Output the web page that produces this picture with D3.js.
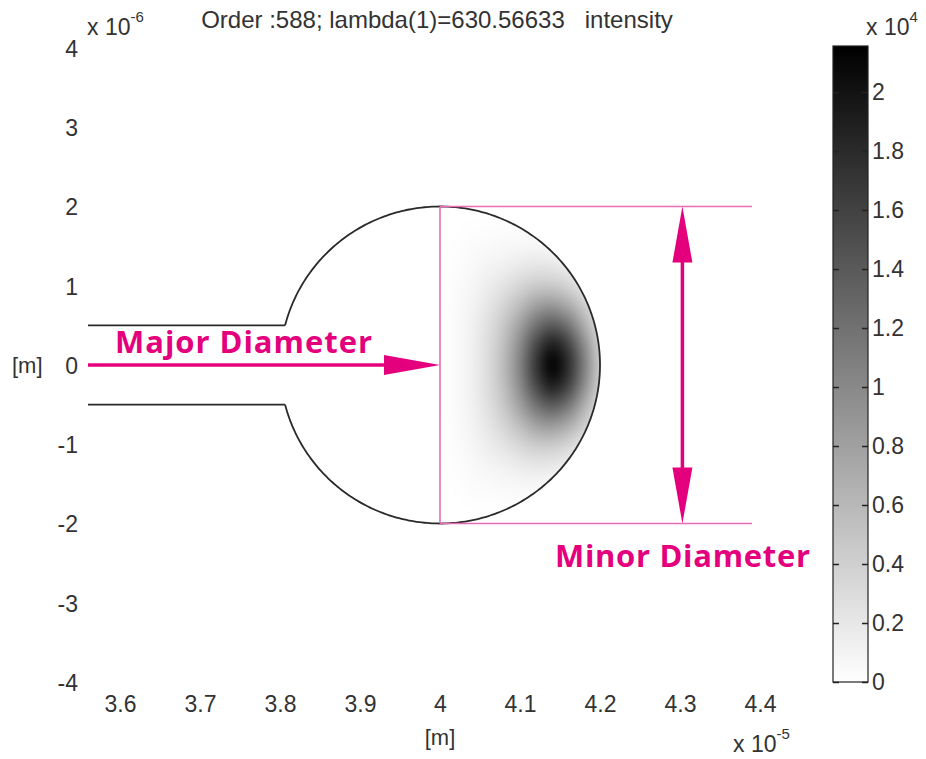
<!DOCTYPE html>
<html>
<head>
<meta charset="utf-8">
<script src="https://cdn.jsdelivr.net/npm/d3@7"></script>
<style>
  body { margin: 0; background: #fff; }
  svg { display: block; }
  text { font-family: "Liberation Sans", Arial, sans-serif; }
</style>
</head>
<body>
<script>
// ---- tick values (x and y in µm; x labels shown in units of 1e-5 m, y in 1e-6 m)
const xTicks = [36, 37, 38, 39, 40, 41, 42, 43, 44];
const xTickLabels = ["3.6", "3.7", "3.8", "3.9", "4", "4.1", "4.2", "4.3", "4.4"];
const yTicks = [4, 3, 2, 1, 0, -1, -2, -3, -4];
const yTickLabels = ["4", "3", "2", "1", "0", "-1", "-2", "-3", "-4"];
const cTicks = [0, 0.2, 0.4, 0.6, 0.8, 1, 1.2, 1.4, 1.6, 1.8, 2];
const cTickLabels = ["0", "0.2", "0.4", "0.6", "0.8", "1", "1.2", "1.4", "1.6", "1.8", "2"];
const cMax = 2.156; // colour range top, ×1e4

// ---- resonator geometry (µm)
const ringCenter = [40, 0];
const ringRadius = 2;
const guideHalfWidth = 0.5;
const guideStart = 35.6;
const markerEnd = 43.9;     // right end of the thin marker lines
const minorArrowX = 43.03;  // x of the vertical double arrow

// ---- intensity samples (×1e4) on a regular grid in the right half of the disk
const gridX = [40.0, 40.2, 40.4, 40.6, 40.8, 41.0, 41.2, 41.4, 41.6, 41.8, 42.0];
const gridY = [2.0, 1.75, 1.5, 1.25, 1.0, 0.75, 0.5, 0.25, 0, -0.25, -0.5, -0.75, -1.0, -1.25, -1.5, -1.75, -2.0];
const intensity = [
  [0.00, 0.00, 0.00, 0.00, 0.00, 0.00, 0.00, 0.00, 0.00, 0.00, 0.00],
  [0.00, 0.00, 0.01, 0.01, 0.02, 0.02, 0.02, 0.01, 0.00, 0.00, 0.00],
  [0.00, 0.01, 0.03, 0.04, 0.06, 0.07, 0.08, 0.06, 0.04, 0.01, 0.00],
  [0.00, 0.02, 0.05, 0.09, 0.13, 0.18, 0.21, 0.20, 0.14, 0.06, 0.02],
  [0.00, 0.03, 0.08, 0.15, 0.24, 0.35, 0.45, 0.46, 0.36, 0.20, 0.07],
  [0.00, 0.03, 0.10, 0.21, 0.36, 0.57, 0.80, 0.88, 0.72, 0.44, 0.17],
  [0.00, 0.04, 0.12, 0.26, 0.47, 0.80, 1.20, 1.40, 1.18, 0.70, 0.30],
  [0.00, 0.04, 0.13, 0.29, 0.55, 0.98, 1.55, 1.92, 1.62, 0.98, 0.40],
  [0.00, 0.04, 0.13, 0.30, 0.58, 1.05, 1.70, 2.15, 1.80, 1.10, 0.45],
  [0.00, 0.04, 0.13, 0.29, 0.55, 0.98, 1.55, 1.92, 1.62, 0.98, 0.40],
  [0.00, 0.04, 0.12, 0.26, 0.47, 0.80, 1.20, 1.40, 1.18, 0.70, 0.30],
  [0.00, 0.03, 0.10, 0.21, 0.36, 0.57, 0.80, 0.88, 0.72, 0.44, 0.17],
  [0.00, 0.03, 0.08, 0.15, 0.24, 0.35, 0.45, 0.46, 0.36, 0.20, 0.07],
  [0.00, 0.02, 0.05, 0.09, 0.13, 0.18, 0.21, 0.20, 0.14, 0.06, 0.02],
  [0.00, 0.01, 0.03, 0.04, 0.06, 0.07, 0.08, 0.06, 0.04, 0.01, 0.00],
  [0.00, 0.00, 0.01, 0.01, 0.02, 0.02, 0.02, 0.01, 0.00, 0.00, 0.00],
  [0.00, 0.00, 0.00, 0.00, 0.00, 0.00, 0.00, 0.00, 0.00, 0.00, 0.00]
];

const W = 926, H = 759;
const PINK = "#e4007d";
const PINK_THIN = "#e86db4";
const TXT = "#333";

const svg = d3.select("body").append("svg").attr("width", W).attr("height", H);

const x = d3.scaleLinear().domain([36, 44]).range([120, 760]);
const y = d3.scaleLinear().domain([-4, 4]).range([682, 48]);
const c = d3.scaleLinear().domain([0, cMax]).range([682, 46]);
const gray = d3.scaleLinear().domain([0, cMax]).range(["#ffffff", "#000000"]);

// ---- intensity field: samples painted into a tiny canvas, upscaled smoothly
const nx = gridX.length, ny = gridY.length;
const dxStep = gridX[1] - gridX[0], dyStep = gridY[0] - gridY[1];
const small = document.createElement("canvas");
small.width = nx; small.height = ny;
const sctx = small.getContext("2d");
const img = sctx.createImageData(nx, ny);
intensity.forEach((row, j) => row.forEach((v, i) => {
  const col = d3.rgb(gray(v));
  const k = (j * nx + i) * 4;
  img.data[k] = col.r; img.data[k + 1] = col.g; img.data[k + 2] = col.b; img.data[k + 3] = 255;
}));
sctx.putImageData(img, 0, 0);

const fx0 = x(gridX[0] - dxStep / 2), fx1 = x(gridX[nx - 1] + dxStep / 2);
const fy0 = y(gridY[0] + dyStep / 2), fy1 = y(gridY[ny - 1] - dyStep / 2);
const big = document.createElement("canvas");
big.width = Math.round(fx1 - fx0); big.height = Math.round(fy1 - fy0);
const bctx = big.getContext("2d");
bctx.imageSmoothingEnabled = true;
bctx.imageSmoothingQuality = "high";
bctx.drawImage(small, 0, 0, nx, ny, 0, 0, big.width, big.height);

// clip to the right half of the disk
const rx = x(ringCenter[0] + ringRadius) - x(ringCenter[0]);
const ry = y(ringCenter[1]) - y(ringCenter[1] + ringRadius);
const defs = svg.append("defs");
defs.append("clipPath").attr("id", "halfDisk").append("path")
  .attr("d", `M${x(40)},${y(2)} A${rx},${ry} 0 0 1 ${x(40)},${y(-2)} Z`);

svg.append("image")
  .attr("x", fx0).attr("y", fy0)
  .attr("width", fx1 - fx0).attr("height", fy1 - fy0)
  .attr("preserveAspectRatio", "none")
  .attr("href", big.toDataURL())
  .attr("clip-path", "url(#halfDisk)");

// ---- resonator outline: disk with the waveguide entering from the left
const a0 = Math.asin(guideHalfWidth / ringRadius);
const angles = d3.range(0, 361).map(k => -Math.PI + a0 + (2 * Math.PI - 2 * a0) * k / 360);
const ringPts = angles.map(t => [ringCenter[0] + ringRadius * Math.cos(t), ringCenter[1] + ringRadius * Math.sin(t)]);
const line = d3.line().x(d => x(d[0])).y(d => y(d[1]));
const joinX = ringCenter[0] - ringRadius * Math.cos(a0);
const outline = svg.append("g").attr("fill", "none").attr("stroke", "#2a2a2a").attr("stroke-width", 1.8);
outline.append("path").attr("d", line(ringPts));
outline.append("path").attr("d", line([[guideStart, guideHalfWidth], [joinX, guideHalfWidth]]));
outline.append("path").attr("d", line([[guideStart, -guideHalfWidth], [joinX, -guideHalfWidth]]));

// ---- dimension markers
const marks = svg.append("g");
marks.append("path").attr("fill", "none").attr("stroke", PINK_THIN).attr("stroke-width", 1.6)
  .attr("d", line([[40, 2], [40, -2]]) + line([[40, 2], [markerEnd, 2]]) + line([[40, -2], [markerEnd, -2]]));

// major diameter arrow
const headL = 56, headW = 10;
marks.append("line").attr("stroke", PINK).attr("stroke-width", 3.5)
  .attr("x1", x(guideStart)).attr("y1", y(0)).attr("x2", x(40) - headL + 4).attr("y2", y(0));
marks.append("path").attr("fill", PINK)
  .attr("d", `M${x(40)},${y(0)} L${x(40) - headL},${y(0) - headW} L${x(40) - headL},${y(0) + headW} Z`);

// minor diameter double arrow
const ax = x(minorArrowX);
marks.append("line").attr("stroke", PINK).attr("stroke-width", 3.5)
  .attr("x1", ax).attr("y1", y(2) + headL - 4).attr("x2", ax).attr("y2", y(-2) - headL + 4);
marks.append("path").attr("fill", PINK)
  .attr("d", `M${ax},${y(2)} L${ax - headW},${y(2) + headL} L${ax + headW},${y(2) + headL} Z` +
             `M${ax},${y(-2)} L${ax - headW},${y(-2) - headL} L${ax + headW},${y(-2) - headL} Z`);

marks.append("text").attr("x", 115).attr("y", 353).attr("fill", PINK)
  .style("font-family", "'Open Sans', 'Noto Sans', sans-serif").style("font-weight", 700).style("font-size", "31px")
  .attr("textLength", 257).attr("lengthAdjust", "spacing")
  .text("Major Diameter");
marks.append("text").attr("x", 555).attr("y", 567).attr("fill", PINK)
  .style("font-family", "'Open Sans', 'Noto Sans', sans-serif").style("font-weight", 700).style("font-size", "31px")
  .attr("textLength", 255).attr("lengthAdjust", "spacing")
  .text("Minor Diameter");

// ---- axes (labels only)
const FS = "23px";
const gx = svg.append("g").attr("transform", "translate(0,712)")
  .call(d3.axisBottom(x).tickValues(xTicks).tickSize(0).tickFormat((d, i) => xTickLabels[i]));
gx.select(".domain").remove();
gx.selectAll("text").attr("y", 0).attr("dy", null).attr("fill", TXT)
  .style("font-size", FS).style("font-family", "'Liberation Sans', Arial, sans-serif");

const gy = svg.append("g").attr("transform", "translate(78,0)")
  .call(d3.axisLeft(y).tickValues(yTicks).tickSize(0).tickPadding(0).tickFormat((d, i) => yTickLabels[i]));
gy.select(".domain").remove();
gy.selectAll("text").attr("dy", "0.36em").attr("fill", TXT)
  .style("font-size", FS).style("font-family", "'Liberation Sans', Arial, sans-serif");

// axis units and exponents
function expLabel(xPos, yBase, base, exp) {
  const t = svg.append("text").attr("x", xPos).attr("y", yBase).attr("fill", TXT).style("font-size", FS);
  t.append("tspan").text(base);
  t.append("tspan").attr("dy", -13).style("font-size", "15px").text(exp);
}
expLabel(87, 35, "x 10", "-6");
expLabel(733, 752, "x 10", "-5");
expLabel(866, 35, "x 10", "4");
svg.append("text").attr("x", 440).attr("y", 745).attr("text-anchor", "middle").attr("fill", TXT)
  .style("font-size", "22px").text("[m]");
svg.append("text").attr("x", 12).attr("y", 373).attr("fill", TXT)
  .style("font-size", "22px").text("[m]");

// title
svg.append("text").attr("x", 437).attr("y", 28).attr("text-anchor", "middle").attr("fill", TXT)
  .style("font-size", "24px").attr("xml:space", "preserve")
  .text("Order :588; lambda(1)=630.56633   intensity");

// ---- colour bar
const grad = defs.append("linearGradient").attr("id", "cbar")
  .attr("x1", 0).attr("y1", 1).attr("x2", 0).attr("y2", 0);
grad.append("stop").attr("offset", 0).attr("stop-color", gray(0));
grad.append("stop").attr("offset", 1).attr("stop-color", gray(cMax));
const cbX = 833, cbW = 35;
svg.append("rect").attr("x", cbX).attr("y", c(cMax)).attr("width", cbW).attr("height", c(0) - c(cMax))
  .attr("fill", "url(#cbar)").attr("stroke", "#222").attr("stroke-width", 1.2);

const gcR = svg.append("g").attr("transform", `translate(${cbX + cbW},0)`)
  .call(d3.axisRight(c).tickValues(cTicks).tickSize(-6).tickPadding(4).tickFormat((d, i) => cTickLabels[i]));
gcR.select(".domain").remove();
gcR.selectAll("line").attr("stroke", "#222").attr("stroke-width", 1.5);
gcR.selectAll("text").attr("fill", TXT)
  .style("font-size", FS).style("font-family", "'Liberation Sans', Arial, sans-serif");

const gcL = svg.append("g").attr("transform", `translate(${cbX},0)`)
  .call(d3.axisLeft(c).tickValues(cTicks).tickSize(-6).tickFormat(""));
gcL.select(".domain").remove();
gcL.selectAll("line").attr("stroke", "#222").attr("stroke-width", 1.5);
</script>
</body>
</html>
